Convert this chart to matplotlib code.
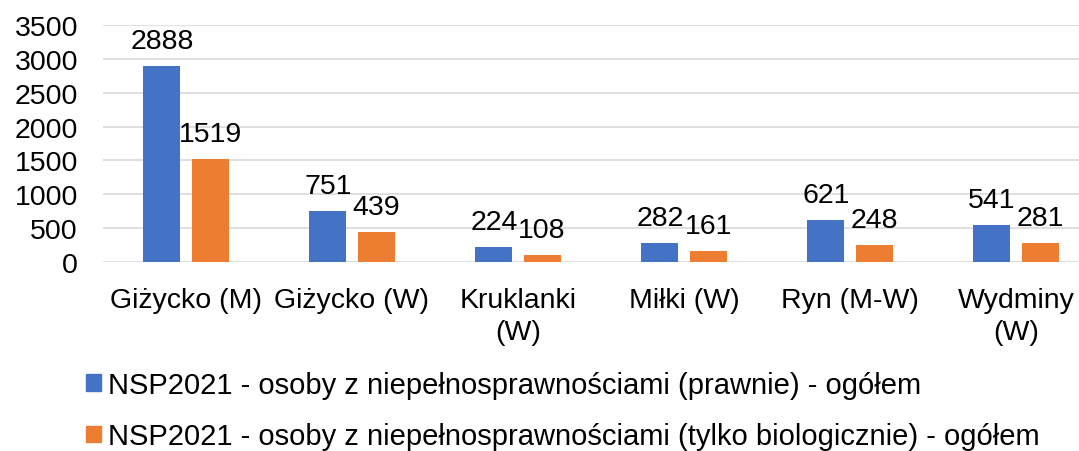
import numpy as np
import matplotlib.pyplot as plt
from matplotlib.patches import Patch

plt.rcParams['font.family'] = ['Liberation Sans', 'DejaVu Sans']

# Gminy powiatu giżyckiego
gminy = ['Giżycko (M)', 'Giżycko (W)', 'Kruklanki\n(W)', 'Miłki (W)', 'Ryn (M-W)', 'Wydminy\n(W)']
prawnie = [2888, 751, 224, 282, 621, 541]
biologicznie = [1519, 439, 108, 161, 248, 281]
seria_nazwy = ['NSP2021 - osoby z niepełnosprawnościami (prawnie) - ogółem',
               'NSP2021 - osoby z niepełnosprawnościami (tylko biologicznie) - ogółem']
kolory = ['#4472c4', '#ed7d31']
fs = 20.5

fig = plt.figure(figsize=(10.79, 4.52), dpi=100)
ax = fig.add_axes([103 / 1079, 1 - 263 / 452, 996 / 1079, 237 / 452])

x = np.arange(len(gminy))
w = 0.223
off = 0.145

b1 = ax.bar(x - off, prawnie, w, color=kolory[0], zorder=3)
b2 = ax.bar(x + off, biologicznie, w, color=kolory[1], zorder=3)

# etykiety wartości nad słupkami
for bars, vals in [(b1, prawnie), (b2, biologicznie)]:
    for r, v in zip(bars, vals):
        ax.annotate(str(v), (r.get_x() + r.get_width() / 2, v),
                    xytext=(0, 13), textcoords='offset points',
                    ha='center', va='baseline', fontsize=fs)

ax.set_xlim(-0.5, len(gminy) - 0.5)
ax.set_ylim(0, 3500)
ax.set_yticks(np.arange(0, 3501, 500))
ax.set_xticks(x)
ax.set_xticklabels(gminy, fontsize=fs, linespacing=1.3)
ax.tick_params(axis='y', labelsize=fs, length=0, pad=18)
ax.tick_params(axis='x', length=0, pad=18)
ax.yaxis.grid(True, color='#d9d9d9', linewidth=1.2, zorder=0)
for s in ax.spines.values():
    s.set_visible(False)

handles = [Patch(color=c) for c in kolory]
fig.legend(handles, seria_nazwy, loc='upper left', bbox_to_anchor=(0.069, 0.203),
           frameon=False, fontsize=21, handlelength=0.5, handleheight=0.5,
           handletextpad=0.25, labelspacing=0.8, borderaxespad=0)

fig.savefig('out.png', dpi=100)
